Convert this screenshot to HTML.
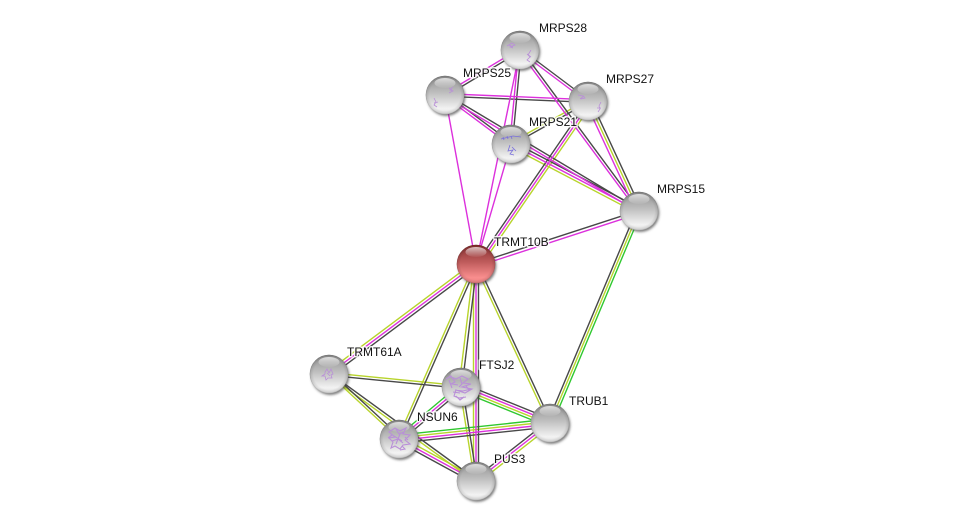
<!DOCTYPE html>
<html><head><meta charset="utf-8"><style>
html,body{margin:0;padding:0;background:#fff;width:975px;height:526px;overflow:hidden}
svg{display:block}
text{font-family:"Liberation Sans",sans-serif;font-size:12px;fill:#111;paint-order:stroke;stroke:rgba(255,255,255,.85);stroke-width:3px;stroke-linejoin:round}
.k line{stroke:#484848}.m line{stroke:#dc30dc}.y line{stroke:#b8d42c}.g line{stroke:#2fc82f}
line{stroke-width:1.4;fill:none}
.s{fill:none;stroke:#b98fd8;stroke-width:.8;filter:url(#sb)}
</style></head><body>
<svg width="975" height="526" viewBox="0 0 975 526" xmlns="http://www.w3.org/2000/svg">
<defs>
<linearGradient id="gb" x1="0" y1="0" x2="0" y2="1"><stop offset="0" stop-color="#8e8e8e"/><stop offset=".45" stop-color="#c0c0c0"/><stop offset=".85" stop-color="#f2f2f2"/><stop offset="1" stop-color="#e4e4e4"/></linearGradient>
<linearGradient id="rb" x1="0" y1="0" x2="0" y2="1"><stop offset="0" stop-color="#862f2f"/><stop offset=".45" stop-color="#bf5c5c"/><stop offset=".85" stop-color="#f98e8e"/><stop offset="1" stop-color="#ee8484"/></linearGradient>
<radialGradient id="rim" cx=".5" cy=".5" r=".5"><stop offset=".8" stop-color="#000" stop-opacity="0"/><stop offset=".95" stop-color="#000" stop-opacity=".1"/><stop offset="1" stop-color="#000" stop-opacity=".28"/></radialGradient>
<linearGradient id="hl" x1="0" y1="0" x2="0" y2="1"><stop offset="0" stop-color="#fff" stop-opacity=".7"/><stop offset="1" stop-color="#fff" stop-opacity=".05"/></linearGradient>
<filter id="bl" x="-30%" y="-30%" width="160%" height="160%"><feGaussianBlur stdDeviation="1.2"/></filter>
<filter id="sb" x="-10%" y="-10%" width="120%" height="120%"><feGaussianBlur stdDeviation=".3"/></filter>
<g id="sp"><circle cx="1.3" cy="2" r="19" fill="#444" fill-opacity=".7" filter="url(#bl)"/><circle r="19.3" fill="url(#gb)"/><circle r="19.3" fill="url(#rim)"/><ellipse cx="0" cy="-12" rx="10.5" ry="5" fill="url(#hl)"/></g>
<g id="spr"><circle cx="1.3" cy="2" r="19" fill="#444" fill-opacity=".7" filter="url(#bl)"/><circle r="19.3" fill="url(#rb)"/><circle r="19.3" fill="url(#rim)"/><ellipse cx="0" cy="-12" rx="10.5" ry="5" fill="url(#hl)"/></g>
</defs>

<g class="y">
<line x1="509.7" y1="146.4" x2="637.7" y2="213.4"/>
<line x1="587.4" y1="99.9" x2="510.4" y2="142.9"/>
<line x1="588" y1="101" x2="639" y2="211"/>
<line x1="592.1" y1="103.9" x2="480.1" y2="266.9"/>
<line x1="474.4" y1="261.8" x2="327.4" y2="371.8"/>
<line x1="474" y1="264" x2="459" y2="387"/>
<line x1="473.5" y1="264" x2="473.5" y2="481"/>
<line x1="474.8" y1="263.5" x2="397.8" y2="438.5"/>
<line x1="474.8" y1="264.5" x2="548.8" y2="423.5"/>
<line x1="639" y1="211" x2="550" y2="423"/>
<line x1="329" y1="372.7" x2="461" y2="385.7"/>
<line x1="329" y1="374" x2="399" y2="439"/>
<line x1="328.2" y1="375" x2="475.2" y2="482"/>
<line x1="460.5" y1="388.2" x2="549.5" y2="424.2"/>
<line x1="459.7" y1="387.2" x2="474.7" y2="481.2"/>
<line x1="398.9" y1="437.7" x2="549.9" y2="421.7"/>
<line x1="400.3" y1="436.6" x2="477.3" y2="478.6"/>
<line x1="551.7" y1="425.1" x2="477.7" y2="483.1"/>
</g>
<g class="g">
<line x1="641.3" y1="212" x2="552.3" y2="424"/>
<line x1="397.3" y1="436.9" x2="459.3" y2="384.9"/>
<line x1="459.5" y1="390.6" x2="548.5" y2="426.6"/>
<line x1="398.6" y1="435.1" x2="549.6" y2="419.1"/>
</g>
<g class="k">
<line x1="520.7" y1="51.1" x2="445.7" y2="96.1"/>
<line x1="520.8" y1="49" x2="588.8" y2="100"/>
<line x1="521.3" y1="50" x2="512.3" y2="144"/>
<line x1="521" y1="49.2" x2="640" y2="210.2"/>
<line x1="445" y1="96.3" x2="588" y2="102.3"/>
<line x1="445.8" y1="94" x2="511.8" y2="143"/>
<line x1="445.7" y1="93.9" x2="639.7" y2="209.9"/>
<line x1="512.3" y1="141.6" x2="640.3" y2="208.6"/>
<line x1="588.6" y1="102.1" x2="511.6" y2="145.1"/>
<line x1="590.5" y1="99.9" x2="641.5" y2="209.9"/>
<line x1="588" y1="101" x2="476" y2="264"/>
<line x1="475.8" y1="263.5" x2="638.8" y2="210.5"/>
<line x1="477.6" y1="266.2" x2="330.6" y2="376.2"/>
<line x1="477" y1="264" x2="462" y2="387"/>
<line x1="478.5" y1="264" x2="478.5" y2="481"/>
<line x1="477.2" y1="264.5" x2="400.2" y2="439.5"/>
<line x1="477.2" y1="263.5" x2="551.2" y2="422.5"/>
<line x1="636.7" y1="210" x2="547.7" y2="422"/>
<line x1="329" y1="375.3" x2="461" y2="388.3"/>
<line x1="330.7" y1="372.2" x2="400.7" y2="437.2"/>
<line x1="329.8" y1="373" x2="476.8" y2="480"/>
<line x1="400.7" y1="441" x2="462.7" y2="389"/>
<line x1="462.5" y1="383.4" x2="551.5" y2="419.4"/>
<line x1="462.3" y1="386.8" x2="477.3" y2="480.8"/>
<line x1="399.4" y1="442.9" x2="550.4" y2="426.9"/>
<line x1="397.7" y1="441.4" x2="474.7" y2="483.4"/>
<line x1="548.3" y1="420.9" x2="474.3" y2="478.9"/>
</g>
<g class="m">
<line x1="519.3" y1="48.9" x2="444.3" y2="93.9"/>
<line x1="519.2" y1="51" x2="587.2" y2="102"/>
<line x1="518.7" y1="50" x2="509.7" y2="144"/>
<line x1="519" y1="50.8" x2="638" y2="211.8"/>
<line x1="520" y1="50" x2="476" y2="264"/>
<line x1="445" y1="93.7" x2="588" y2="99.7"/>
<line x1="444.2" y1="96" x2="510.2" y2="145"/>
<line x1="444.3" y1="96.1" x2="638.3" y2="212.1"/>
<line x1="511" y1="144" x2="639" y2="211"/>
<line x1="445" y1="95" x2="476" y2="264"/>
<line x1="511" y1="144" x2="476" y2="264"/>
<line x1="585.5" y1="102.1" x2="636.5" y2="212.1"/>
<line x1="590.1" y1="102.5" x2="478.1" y2="265.5"/>
<line x1="476.8" y1="266.4" x2="639.8" y2="213.4"/>
<line x1="476" y1="264" x2="329" y2="374"/>
<line x1="476" y1="264" x2="476" y2="481"/>
<line x1="399" y1="439" x2="461" y2="387"/>
<line x1="461.5" y1="385.8" x2="550.5" y2="421.8"/>
<line x1="399.1" y1="440.3" x2="550.1" y2="424.3"/>
<line x1="399" y1="439" x2="476" y2="481"/>
<line x1="550" y1="423" x2="476" y2="481"/>
</g>

<use href="#sp" x="520" y="50"/>
<use href="#sp" x="445" y="95"/>
<use href="#sp" x="588" y="101"/>
<use href="#sp" x="511" y="144"/>
<use href="#sp" x="639" y="211"/>
<use href="#spr" x="476" y="264"/>
<use href="#sp" x="329" y="374"/>
<use href="#sp" x="461" y="387"/>
<use href="#sp" x="399" y="439"/>
<use href="#sp" x="550" y="423"/>
<use href="#sp" x="476" y="481"/>

<g class="s">
<path d="M507 46l5-3 3 2-5 2 3 1M509 45l4 2M531 50l-3 5 2 2-3 3 3 2M527 54l4 3"/>
<path d="M453 87l-3 3 3 1-4 2M452 90l-3-2M434 98l2 4-2 3 3 2M434 103l4-1"/>
<path d="M578 95l5 1 2 2-4 1M580 99l4-3M601 102l-2 4 1 3-2 3M597 108l4 0"/>
<path d="M325 372l2-3 2 4 2-4 2 5-2 1 1 3-4 0-2 2-1-4-3 0 3-2zM327 373l3 3"/>
<path stroke="#7a70dc" d="M501 139l12-3 8 1M503 137l1 3M507 136l1 3M511 136l1 3M510 145l-2 6 5-1-3 4 4 1M512 147l4 4"/>
<path stroke-width="1.1" d="M449 376l7 3 6-3 6 3-5 4 8 1-9 3 10 2-7 4-9-3-2 6 5 2 7-1M452 384l6 1M453 392l7 1M449 380l3 8M446 379l5-3 4 6-4 2M455 390l8 1 8-2M456 396l4 4 4-3M460 378l2 6-3 3M466 386l3 4"/>
<path stroke-width="1.1" d="M389 432l6-4 5 3 6-3-3 6 7 1-5 5 5 4-7 1-3 4-5-3-4 2 2-6-4-4 6-1zM394 436l8 5M400 434l-4 10M392 441l6-2 5 4M396 429l3 5 5-2M388 438l4-3M402 446l3 3-5 1M405 437l3 3"/>
</g>

<text x="539" y="32">MRPS28</text>
<text x="463" y="77">MRPS25</text>
<text x="606" y="83">MRPS27</text>
<text x="529" y="126">MRPS21</text>
<text x="657" y="193">MRPS15</text>
<text x="494" y="246">TRMT10B</text>
<text x="347" y="356">TRMT61A</text>
<text x="479" y="369">FTSJ2</text>
<text x="417" y="421">NSUN6</text>
<text x="569" y="405">TRUB1</text>
<text x="494" y="463">PUS3</text>
</svg>
</body></html>
